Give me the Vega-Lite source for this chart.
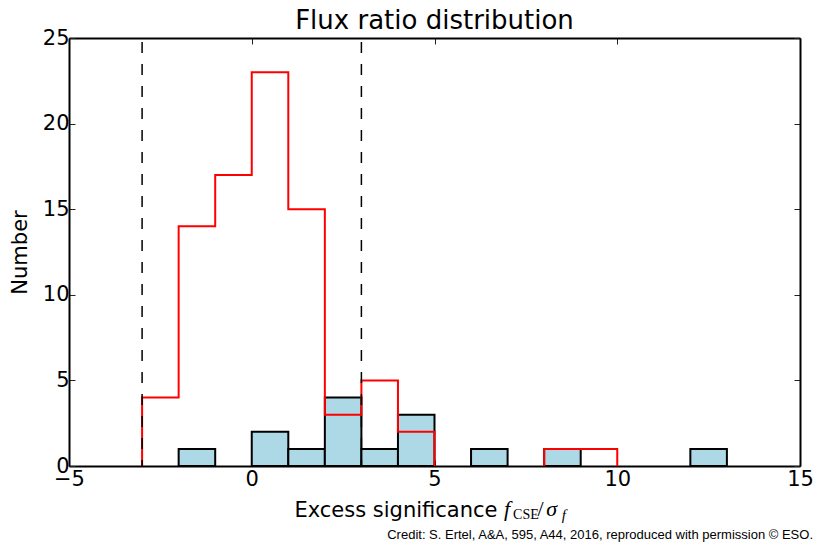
{
  "$schema": "https://vega.github.io/schema/vega-lite/v6.json",
  "width": 731,
  "height": 428,
  "autosize": {"type": "none"},
  "padding": {"left": 69, "top": 38, "right": 15, "bottom": 84},
  "background": "white",
  "config": {
    "view": {"stroke": null},
    "axis": {"domain": true, "domainColor": "black", "domainWidth": 2, "zindex": 1, "grid": false, "tickColor": "#222222", "tickWidth": 1, "tickSize": -6, "labelFlush": false, "labelOverlap": false, "labelFont": "DejaVu Sans", "labelFontSize": 21, "labelColor": "black", "titleFont": "DejaVu Sans", "titleFontSize": 21, "titleFontWeight": "normal", "titleColor": "black"}
  },
  "datasets": {
    "sample": [
      {"x0": -2, "x1": -1, "n": 1},
      {"x0": 0, "x1": 1, "n": 2},
      {"x0": 1, "x1": 2, "n": 1},
      {"x0": 2, "x1": 3, "n": 4},
      {"x0": 3, "x1": 4, "n": 1},
      {"x0": 4, "x1": 5, "n": 3},
      {"x0": 6, "x1": 7, "n": 1},
      {"x0": 8, "x1": 9, "n": 1},
      {"x0": 12, "x1": 13, "n": 1}
    ],
    "reference": [
      {"part": "a", "edge": -3, "n": 0, "i": 0},
      {"part": "a", "edge": -3, "n": 4, "i": 1},
      {"part": "a", "edge": -2, "n": 14, "i": 2},
      {"part": "a", "edge": -1, "n": 17, "i": 3},
      {"part": "a", "edge": 0, "n": 23, "i": 4},
      {"part": "a", "edge": 1, "n": 15, "i": 5},
      {"part": "a", "edge": 2, "n": 3, "i": 6},
      {"part": "a", "edge": 3, "n": 5, "i": 7},
      {"part": "a", "edge": 4, "n": 2, "i": 8},
      {"part": "a", "edge": 5, "n": 0, "i": 9},
      {"part": "b", "edge": 8, "n": 0, "i": 10},
      {"part": "b", "edge": 8, "n": 1, "i": 11},
      {"part": "b", "edge": 9, "n": 1, "i": 12},
      {"part": "b", "edge": 10, "n": 0, "i": 13}
    ],
    "limits": [{"v": -3}, {"v": 3}]
  },
  "resolve": {"axis": {"x": "independent", "y": "independent"}},
  "layer": [
    {
      "data": {"name": "sample"},
      "mark": {"type": "rect", "fill": "#ADD8E6", "stroke": "black", "strokeWidth": 2},
      "encoding": {
        "x": {"field": "x0", "type": "quantitative", "scale": {"domain": [-5, 15], "nice": false, "zero": false},
              "axis": {"orient": "bottom", "values": [-5, 0, 5, 10, 15], "labelPadding": 8, "title": "Excess significance", "titleAlign": "right", "titleAnchor": null, "titleX": 428, "titleY": 50, "titleBaseline": "alphabetic"}},
        "x2": {"field": "x1"},
        "y": {"field": "n", "type": "quantitative", "scale": {"domain": [0, 25], "nice": false},
              "axis": {"orient": "left", "values": [0, 5, 10, 15, 20, 25], "labelPadding": 6, "title": "Number", "titlePadding": 12}},
        "y2": {"datum": 0}
      }
    },
    {
      "data": {"name": "reference"},
      "mark": {"type": "line", "interpolate": "step-after", "color": "#FF0000", "strokeWidth": 2},
      "encoding": {
        "x": {"field": "edge", "type": "quantitative", "scale": {"domain": [-5, 15], "nice": false, "zero": false},
              "axis": {"orient": "top", "values": [-5, 0, 5, 10, 15], "labels": false, "title": null}},
        "y": {"field": "n", "type": "quantitative", "scale": {"domain": [0, 25], "nice": false},
              "axis": {"orient": "right", "values": [0, 5, 10, 15, 20, 25], "labels": false, "title": null}},
        "detail": {"field": "part", "type": "nominal"},
        "order": {"field": "i", "type": "quantitative"}
      }
    },
    {
      "data": {"name": "limits"},
      "mark": {"type": "rule", "color": "black", "strokeWidth": 1.5, "strokeDash": [11, 11], "strokeDashOffset": 18},
      "encoding": {
        "x": {"field": "v", "type": "quantitative", "scale": {"domain": [-5, 15], "nice": false, "zero": false}, "axis": null}
      }
    },
    {
      "data": {"values": [{"t": "Flux ratio distribution"}]},
      "mark": {"type": "text", "font": "DejaVu Sans", "fontSize": 26, "align": "center", "baseline": "alphabetic", "dy": -9, "color": "black"},
      "encoding": {
        "x": {"datum": 5, "type": "quantitative", "scale": {"domain": [-5, 15], "nice": false, "zero": false}, "axis": null},
        "y": {"datum": 25, "type": "quantitative", "scale": {"domain": [0, 25], "nice": false}, "axis": null},
        "text": {"field": "t"}
      }
    },
    {
      "data": {"values": [{"t": "f"}]},
      "mark": {"type": "text", "font": "Liberation Serif", "fontStyle": "italic", "fontSize": 22, "align": "left", "baseline": "alphabetic", "dy": 50, "color": "black"},
      "encoding": {
        "x": {"datum": 6.9, "type": "quantitative", "scale": {"domain": [-5, 15], "nice": false, "zero": false}, "axis": null},
        "y": {"datum": 0, "type": "quantitative", "scale": {"domain": [0, 25], "nice": false}, "axis": null},
        "text": {"field": "t"}
      }
    },
    {
      "data": {"values": [{"t": "CSE"}]},
      "mark": {"type": "text", "font": "Liberation Serif", "fontSize": 14, "align": "left", "baseline": "alphabetic", "dy": 53, "color": "black"},
      "encoding": {
        "x": {"datum": 7.15, "type": "quantitative", "scale": {"domain": [-5, 15], "nice": false, "zero": false}, "axis": null},
        "y": {"datum": 0, "type": "quantitative", "scale": {"domain": [0, 25], "nice": false}, "axis": null},
        "text": {"field": "t"}
      }
    },
    {
      "data": {"values": [{"t": "/"}]},
      "mark": {"type": "text", "font": "Liberation Serif", "fontSize": 22, "align": "left", "baseline": "alphabetic", "dy": 50, "color": "black"},
      "encoding": {
        "x": {"datum": 7.82, "type": "quantitative", "scale": {"domain": [-5, 15], "nice": false, "zero": false}, "axis": null},
        "y": {"datum": 0, "type": "quantitative", "scale": {"domain": [0, 25], "nice": false}, "axis": null},
        "text": {"field": "t"}
      }
    },
    {
      "data": {"values": [{"t": "σ"}]},
      "mark": {"type": "text", "font": "Liberation Serif", "fontStyle": "italic", "fontSize": 22, "align": "left", "baseline": "alphabetic", "dy": 50, "color": "black"},
      "encoding": {
        "x": {"datum": 8.06, "type": "quantitative", "scale": {"domain": [-5, 15], "nice": false, "zero": false}, "axis": null},
        "y": {"datum": 0, "type": "quantitative", "scale": {"domain": [0, 25], "nice": false}, "axis": null},
        "text": {"field": "t"}
      }
    },
    {
      "data": {"values": [{"t": "f"}]},
      "mark": {"type": "text", "font": "Liberation Serif", "fontStyle": "italic", "fontSize": 15, "align": "left", "baseline": "alphabetic", "dy": 54, "color": "black"},
      "encoding": {
        "x": {"datum": 8.48, "type": "quantitative", "scale": {"domain": [-5, 15], "nice": false, "zero": false}, "axis": null},
        "y": {"datum": 0, "type": "quantitative", "scale": {"domain": [0, 25], "nice": false}, "axis": null},
        "text": {"field": "t"}
      }
    },
    {
      "data": {"values": [{"t": "Credit: S. Ertel, A&A, 595, A44, 2016, reproduced with permission © ESO."}]},
      "mark": {"type": "text", "font": "Liberation Sans", "fontSize": 13, "align": "right", "baseline": "alphabetic", "dx": 13, "dy": 73, "color": "black"},
      "encoding": {
        "x": {"datum": 15, "type": "quantitative", "scale": {"domain": [-5, 15], "nice": false, "zero": false}, "axis": null},
        "y": {"datum": 0, "type": "quantitative", "scale": {"domain": [0, 25], "nice": false}, "axis": null},
        "text": {"field": "t"}
      }
    }
  ]
}
